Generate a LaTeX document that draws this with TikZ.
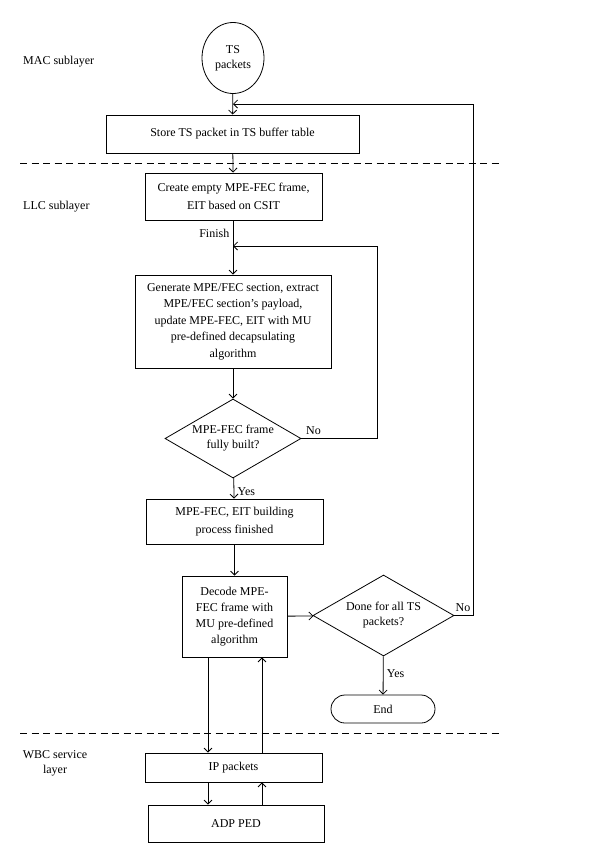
\documentclass[tikz,border=0pt]{standalone}
\usepackage{fontspec}
\setmainfont{Liberation Serif}
\usetikzlibrary{shapes, arrows.meta, positioning}

\begin{document}
\begin{tikzpicture}[x=1pt,y=-1pt,
    font=\fontsize{12}{16}\selectfont,
    box/.style={draw,rectangle,align=center,inner sep=2pt},
    decision/.style={draw,diamond,align=center,inner sep=0pt,shape aspect=1.72},
    layer/.style={align=center,inner sep=0pt},
    flow/.style={draw,-{Straight Barb[length=4pt,width=8pt]}}]
  \useasboundingbox (0,0) rectangle (600,865);

  % layer labels and borders
  \node[layer,anchor=west] (mac) at (23,62) {MAC sublayer};
  \node[layer,anchor=west] (llc) at (23,207) {LLC sublayer};
  \node[layer,font=\fontsize{12}{15}\selectfont] (wbc) at (55,763) {WBC service\\layer};
  \draw[dash pattern=on 7pt off 4.5pt] (20,163) -- (503,163);
  \draw[dash pattern=on 7pt off 4.5pt] (20,733) -- (503,733);

  \begin{scope}[every node/.style={line width=0.8pt}]
    \node[draw,ellipse,align=center,inner sep=0pt,minimum width=62pt,minimum height=71pt,
      font=\fontsize{12}{15}\selectfont] (ts) at (233,58) {TS\\packets};
    \node[box,minimum width=253pt,minimum height=38pt] (store) at (232.5,134) {Store TS packet in TS buffer table};
    \node[box,minimum width=177pt,minimum height=47pt,font=\fontsize{12}{18}\selectfont] (create) at (233.5,196.5)
      {Create empty MPE-FEC frame,\\EIT based on CSIT};
    \node[box,minimum width=196pt,minimum height=93pt,font=\fontsize{12}{16.5}\selectfont] (gen) at (233,321.5)
      {Generate MPE/FEC section, extract\\MPE/FEC section’s payload,\\update MPE-FEC, EIT with MU\\pre-defined decapsulating\\algorithm};
    \node[decision,minimum width=136pt,minimum height=79pt,font=\fontsize{12}{15}\selectfont] (built?) at (233,438.5)
      {MPE-FEC frame\\fully built?};
    \node[box,minimum width=177pt,minimum height=45pt,font=\fontsize{12}{18}\selectfont] (built) at (234.5,521.5)
      {MPE-FEC, EIT building\\process finished};
    \node[box,minimum width=105pt,minimum height=81pt,font=\fontsize{12}{16}\selectfont] (decode) at (234.5,616.5)
      {Decode MPE-\\FEC frame with\\MU pre-defined\\algorithm};
    \node[decision,minimum width=141pt,minimum height=81pt,font=\fontsize{12}{15}\selectfont] (done?) at (383.5,615.5)
      {Done for all TS\\packets?};
    \node[draw,rounded corners=14pt,minimum width=104pt,minimum height=28pt] (end) at (383,709) {End};
    \node[box,minimum width=177pt,minimum height=29pt] (ip) at (233.5,767.5) {IP packets};
    \node[box,minimum width=176pt,minimum height=37pt] (adp) at (236,823.5) {ADP PED};
  \end{scope}

  \coordinate (join1) at (233,246);
  \coordinate (join2) at (233,104);
  \coordinate (dn) at (208,0);
  \coordinate (up) at (262,0);

  \begin{scope}[line width=0.8pt,every edge/.style={flow}]
    \path (ts) edge (store);
    \path (store) edge (create);
    \path (create.south -| gen.north) edge node[left,pos=0.24] {Finish} (gen.north);
    \path (gen) edge (built?);
    \path (built?) edge node[right,pos=0.65] {Yes} (built);
    \path (built) edge (decode);
    \path (decode) edge (done?);
    \path (done?) edge node[right,pos=0.44] {Yes} (end);
    \draw[flow] (built?.east) -- node[above,pos=0.16] {No} ++(76,0) |- (join1);
    \draw[flow] (done?.east) -- node[above,pos=0.45] {No} ++(19,0) |- (join2);
    \path (decode.south -| dn) edge (ip.north -| dn);
    \path (ip.north -| up) edge (decode.south -| up);
    \path (ip.south -| dn) edge (adp.north -| dn);
    \path (adp.north -| up) edge (ip.south -| up);
  \end{scope}
\end{tikzpicture}
\end{document}
